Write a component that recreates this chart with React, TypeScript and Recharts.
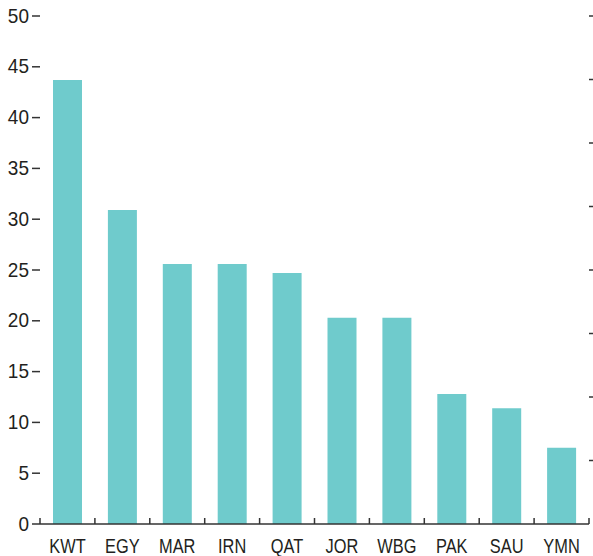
import React from 'react';
import { BarChart, Bar, XAxis, YAxis } from 'recharts';

const categories = ['KWT', 'EGY', 'MAR', 'IRN', 'QAT', 'JOR', 'WBG', 'PAK', 'SAU', 'YMN'];
const values = [43.7, 30.9, 25.6, 25.6, 24.7, 20.3, 20.3, 12.8, 11.4, 7.5];
const leftTicks = [0, 5, 10, 15, 20, 25, 30, 35, 40, 45, 50];
const rightTicks = [1, 2, 3, 4, 5, 6, 7, 8];

const data = categories.map((name, i) => ({ name, value: values[i] }));

const FONT = '"Liberation Sans", Arial, sans-serif';
const INK = '#231f20';
const AXIS = '#333333';

const XTick = (props: any) => {
  const { x, y, payload, index, visibleTicksCount } = props;
  const half = payload && payload.offset ? payload.offset : 0;
  const axisY = y - 14;
  const isLast = index === (visibleTicksCount ?? 10) - 1;
  return (
    <g>
      <line x1={x - half} x2={x - half} y1={axisY - 6} y2={axisY} stroke={AXIS} strokeWidth={1.5} />
      {isLast && (
        <line x1={x + half} x2={x + half} y1={axisY - 6} y2={axisY} stroke={AXIS} strokeWidth={1.5} />
      )}
      <text
        transform={`translate(${x},${y + 14.8}) scale(0.78,1)`}
        textAnchor="middle"
        fill={INK}
        fontSize={21}
        fontFamily={FONT}
      >
        {payload.value}
      </text>
    </g>
  );
};

const YTick = (props: any) => {
  const { x, y, payload } = props;
  return (
    <text
      transform={`translate(${x},${y + 6.5}) scale(0.95,1)`}
      textAnchor="end"
      fill={INK}
      fontSize={20}
      fontFamily={FONT}
    >
      {payload.value}
    </text>
  );
};

const NoLabel = () => <g />;

export default function App() {
  return (
    <div style={{ position: 'absolute', left: 0, top: 0, width: 593, height: 556, background: '#fff' }}>
      <BarChart
        width={593}
        height={556}
        data={data}
        margin={{ top: 16, right: 0, bottom: 0, left: 0 }}
      >
        <XAxis
          xAxisId="cat"
          dataKey="name"
          height={32}
          axisLine={{ stroke: AXIS, strokeWidth: 1.5 }}
          tickLine={false}
          tickSize={0}
          tickMargin={14}
          interval={0}
          tick={<XTick />}
        />
        <YAxis
          yAxisId="left"
          domain={[0, 50]}
          ticks={leftTicks}
          width={40}
          axisLine={false}
          tickLine={{ stroke: AXIS, strokeWidth: 1.5 }}
          tickSize={8}
          tickMargin={3}
          interval={0}
          tick={<YTick />}
        />
        <YAxis
          yAxisId="right"
          orientation="right"
          type="number"
          domain={[0, 8]}
          allowDataOverflow
          ticks={rightTicks}
          width={4}
          axisLine={false}
          tickLine={{ stroke: AXIS, strokeWidth: 1.5 }}
          tickSize={5}
          tick={<NoLabel />}
          interval={0}
        />
        <Bar
          xAxisId="cat"
          yAxisId="left"
          dataKey="value"
          fill="#6fcbcc"
          barSize={29}
          isAnimationActive={false}
        />
      </BarChart>
    </div>
  );
}
